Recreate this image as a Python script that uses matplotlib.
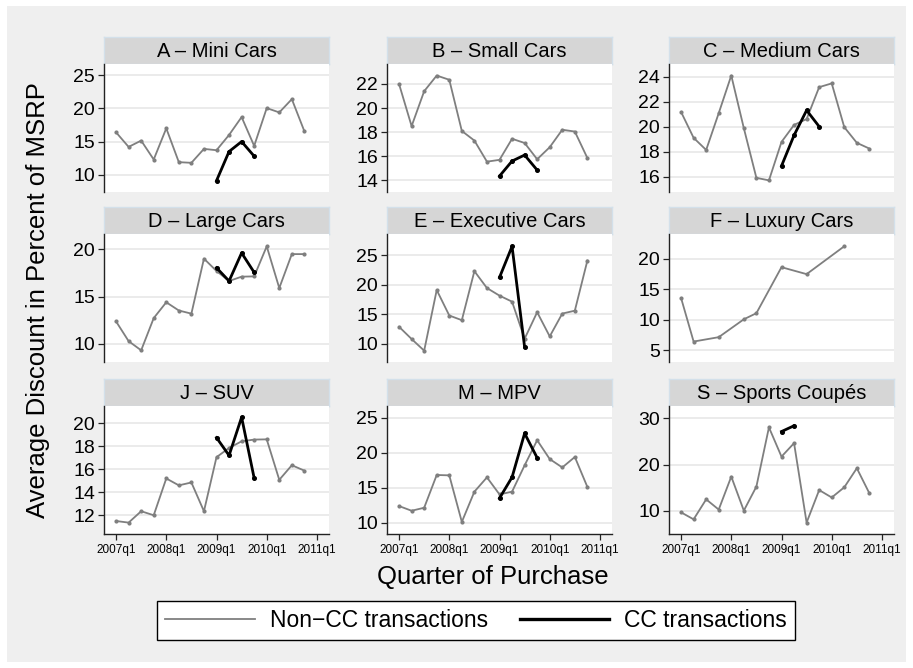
import numpy as np
import matplotlib
matplotlib.use("Agg")
import matplotlib.pyplot as plt
from matplotlib.patches import Rectangle
from matplotlib.lines import Line2D

plt.rcParams['font.family'] = ['Liberation Sans', 'DejaVu Sans']

nan = np.nan
quarters = ["2007q1", "2007q2", "2007q3", "2007q4", "2008q1", "2008q2", "2008q3", "2008q4",
            "2009q1", "2009q2", "2009q3", "2009q4", "2010q1", "2010q2", "2010q3", "2010q4"]
tick_labels = ["2007q1", "2008q1", "2009q1", "2010q1", "2011q1"]

titles = ["A \u2013 Mini Cars", "B \u2013 Small Cars", "C \u2013 Medium Cars",
          "D \u2013 Large Cars", "E \u2013 Executive Cars", "F \u2013 Luxury Cars",
          "J \u2013 SUV", "M \u2013 MPV", "S \u2013 Sports Coup\u00e9s"]

noncc_A = [16.4, 14.2, 15.15, 12.3, 17.0, 11.9, 11.8, 13.9, 13.7, 16.0, 18.7, 14.35, 20.05, 19.4, 21.4, 16.55]
cc_A = [nan]*8 + [9.1, 13.5, 15.0, 12.8] + [nan]*4
noncc_B = [22.0, 18.5, 21.4, 22.7, 22.35, 18.1, 17.3, 15.55, 15.7, 17.45, 17.1, 15.75, 16.75, 18.2, 18.05, 15.85]
cc_B = [nan]*8 + [14.35, 15.6, 16.1, 14.85] + [nan]*4
noncc_C = [21.17, 19.1, 18.13, 21.07, 24.08, 19.87, 15.9, 15.7, 18.77, 20.13, 20.6, 23.15, 23.45, 19.95, 18.7, 18.24]
cc_C = [nan]*8 + [16.85, 19.3, 21.3, 20.0] + [nan]*4
noncc_D = [12.38, 10.3, 9.33, 12.73, 14.4, 13.53, 13.2, 19.0, 17.7, 16.64, 17.1, 17.13, 20.3, 15.9, 19.48, 19.48]
cc_D = [nan]*8 + [18.04, 16.64, 19.6, 17.55] + [nan]*4
noncc_E = [12.87, 10.8, 8.82, 19.1, 14.78, 13.99, 22.3, 19.44, 18.15, 17.13, 10.84, 15.34, 11.24, 15.11, 15.6, 24.1]
cc_E = [nan]*8 + [21.24, 26.5, 9.44, nan] + [nan]*4
noncc_F = [13.6, 6.45, nan, 7.17, nan, 10.1, 11.1, nan, 18.64, nan, 17.5, nan, nan, 22.07, nan, nan]
cc_F = [nan]*16
noncc_J = [11.5, 11.36, 12.35, 12.0, 15.2, 14.6, 14.85, 12.35, 17.05, 17.85, 18.43, 18.58, 18.6, 15.08, 16.35, 15.88]
cc_J = [nan]*8 + [18.75, 17.2, 20.52, 15.23] + [nan]*4
noncc_M = [12.37, 11.7, 12.13, 16.82, 16.77, 10.1, 14.43, 16.48, 14.04, 14.43, 18.2, 21.8, 19.1, 17.9, 19.4, 15.1]
cc_M = [nan]*8 + [13.5, 16.5, 22.78, 19.28] + [nan]*4
noncc_S = [9.7, 8.2, 12.5, 10.3, 17.4, 10.07, 15.25, 28.0, 21.7, 24.6, 7.5, 14.5, 12.9, 15.1, 19.2, 13.8]
cc_S = [nan]*8 + [27.1, 28.35, nan, nan] + [nan]*4

noncc_all = [noncc_A, noncc_B, noncc_C, noncc_D, noncc_E, noncc_F, noncc_J, noncc_M, noncc_S]
cc_all = [cc_A, cc_B, cc_C, cc_D, cc_E, cc_F, cc_J, cc_M, cc_S]

yticks_all = [[10, 15, 20, 25], [14, 16, 18, 20, 22], [16, 18, 20, 22, 24],
              [10, 15, 20], [10, 15, 20, 25], [5, 10, 15, 20],
              [12, 14, 16, 18, 20], [10, 15, 20, 25], [10, 20, 30]]
ylims = [(7.4, 26.7), (13.03, 23.66), (14.77, 25.0),
         (8.1, 21.6), (6.9, 28.6), (3.1, 24.08),
         (10.37, 21.5), (8.37, 26.7), (5.04, 32.6)]

W, H = 913, 668
fig = plt.figure(figsize=(W / 100, H / 100), dpi=100)
fig.patch.set_facecolor('white')
fig.patches.append(Rectangle((7 / W, 1 - 662 / H), (906 - 7) / W, (662 - 6) / H,
                             transform=fig.transFigure, facecolor='#EFEFEF',
                             edgecolor='none', zorder=-10))

col_left = [104, 387, 669]
col_w = 225
title_top = [37, 207, 379]
title_h = 27
plot_h = 128

x = np.arange(len(quarters))
GRAY = '#7F7F7F'

for i in range(9):
    r, c = divmod(i, 3)
    left = col_left[c]
    ttop = title_top[r]
    ptop = ttop + title_h
    tax = fig.add_axes([left / W, 1 - ptop / H, col_w / W, title_h / H])
    tax.set_facecolor('#D6D6D6')
    for s in tax.spines.values():
        s.set_color('#D3E0EA')
        s.set_linewidth(1.0)
    tax.set_xticks([]); tax.set_yticks([])
    tax.text(0.5, 0.47, titles[i], ha='center', va='center', fontsize=14.5,
             transform=tax.transAxes)

    ax = fig.add_axes([left / W, 1 - (ptop + plot_h) / H, col_w / W, plot_h / H])
    ax.set_facecolor('white')
    nc = np.array(noncc_all[i], dtype=float)
    m = ~np.isnan(nc)
    ax.plot(x[m], nc[m], color=GRAY, lw=1.3, marker='o', ms=2.0, zorder=3)
    cc = np.array(cc_all[i], dtype=float)
    m2 = ~np.isnan(cc)
    if m2.any():
        ax.plot(x[m2], cc[m2], color='black', lw=2.0, marker='o', ms=2.6, zorder=4)
    ax.set_xlim(-0.96, 16.96)
    ax.set_ylim(*ylims[i])
    ax.set_yticks(yticks_all[i])
    ax.yaxis.grid(True, color='#E8E8E8', lw=1.2)
    ax.set_axisbelow(True)
    for s in ['top', 'right']:
        ax.spines[s].set_visible(False)
    ax.spines['left'].set_color('#222222')
    ax.spines['left'].set_linewidth(1.0)
    ax.tick_params(axis='y', labelsize=14, length=4.5, width=0.9, pad=2, color='#222222')
    ax.set_xticks(np.arange(0, 17, 4))
    if r == 2:
        ax.spines['bottom'].set_color('#222222')
        ax.spines['bottom'].set_linewidth(1.0)
        ax.set_xticklabels(tick_labels)
        ax.tick_params(axis='x', labelsize=8.5, length=4.5, width=0.9, pad=3, color='#222222')
    else:
        ax.spines['bottom'].set_visible(False)
        ax.tick_params(axis='x', length=0, labelbottom=False)

fig.text(38 / W, 1 - 300 / H, "Average Discount in Percent of MSRP", rotation=90,
         ha='center', va='center', fontsize=18.5)
fig.text(493 / W, 1 - 577 / H, "Quarter of Purchase", ha='center', va='center', fontsize=18.5)

handles = [Line2D([], [], color=GRAY, lw=1.3), Line2D([], [], color='black', lw=2.4)]
leg = fig.legend(handles, ["Non\u2212CC transactions", "CC transactions"],
                 loc='center', bbox_to_anchor=(476 / W, 1 - 620.5 / H), ncol=2,
                 handlelength=3.9, columnspacing=1.4, handletextpad=0.65,
                 fancybox=False, edgecolor='black', framealpha=1.0,
                 borderpad=0.35, borderaxespad=0,
                 prop={'family': ['Liberation Sans'], 'size': 16.5})
leg.get_frame().set_linewidth(1.0)

fig.savefig('out.png', dpi=100)
